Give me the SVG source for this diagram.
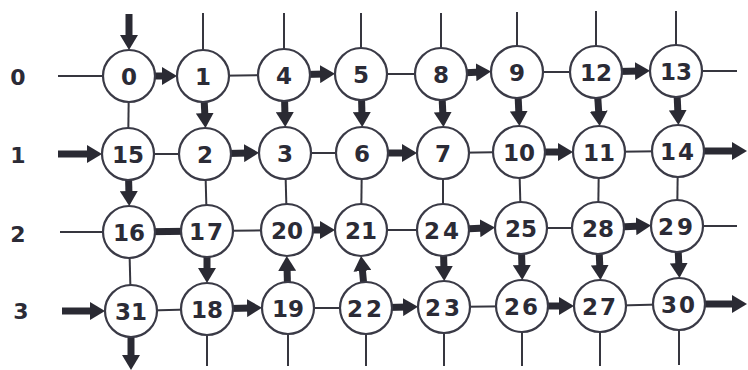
<svg xmlns="http://www.w3.org/2000/svg" width="748" height="370" viewBox="0 0 748 370">
<style>
.bg{fill:#ffffff}
.thin{stroke:#36363f;stroke-width:2;fill:none}
.thick{stroke:#2a2a33;stroke-width:7;fill:none}
.arr{stroke:#2a2a33;stroke-width:7;fill:none;marker-end:url(#head)}
.node circle{fill:#ffffff;stroke:#3a3a46;stroke-width:2.2}
.node text,.lbl{font-family:"DejaVu Sans",sans-serif;font-weight:bold;font-size:23px;fill:#2b2b36;text-anchor:middle;dominant-baseline:central}
.lbl{font-size:22px}
</style>
<defs>
<marker id="head" markerUnits="userSpaceOnUse" viewBox="0 0 15 18" markerWidth="15" markerHeight="18" refX="5" refY="9" orient="auto">
<path d="M0,0 L15,9 L0,18 z" fill="#2a2a33"/>
</marker>
</defs>
<rect class="bg" x="0" y="0" width="748" height="370"/>
<g id="row-labels">
<text class="lbl" x="18" y="77">0</text>
<text class="lbl" x="18" y="155">1</text>
<text class="lbl" x="18" y="234">2</text>
<text class="lbl" x="21" y="311">3</text>
</g>
<g id="connectors">
<line class="thin" x1="58" y1="76" x2="129" y2="76"/>
<line class="arr" x1="129" y1="76" x2="167" y2="76"/>
<line class="thin" x1="203" y1="76" x2="284" y2="75"/>
<line class="arr" x1="284" y1="75" x2="325" y2="74"/>
<line class="thin" x1="361" y1="74" x2="441" y2="74"/>
<line class="arr" x1="441" y1="74" x2="481" y2="72"/>
<line class="thin" x1="517" y1="72" x2="596" y2="72"/>
<line class="arr" x1="596" y1="72" x2="640" y2="71"/>
<line class="thin" x1="676" y1="71" x2="737" y2="71"/>
<line class="arr" x1="129" y1="14" x2="129" y2="40"/>
<line class="thin" x1="203" y1="13" x2="203" y2="76"/>
<line class="thin" x1="284" y1="13" x2="284" y2="75"/>
<line class="thin" x1="361" y1="13" x2="361" y2="74"/>
<line class="thin" x1="441" y1="13" x2="441" y2="74"/>
<line class="thin" x1="517" y1="12" x2="517" y2="72"/>
<line class="thin" x1="596" y1="11" x2="596" y2="72"/>
<line class="thin" x1="676" y1="11" x2="676" y2="71"/>
<line class="thin" x1="129" y1="76" x2="128" y2="154"/>
<line class="arr" x1="203" y1="76" x2="205" y2="118"/>
<line class="arr" x1="284" y1="75" x2="285" y2="117"/>
<line class="arr" x1="361" y1="74" x2="362" y2="117"/>
<line class="arr" x1="441" y1="74" x2="443" y2="117"/>
<line class="arr" x1="517" y1="72" x2="519" y2="116"/>
<line class="arr" x1="596" y1="72" x2="599" y2="116"/>
<line class="arr" x1="676" y1="71" x2="678" y2="115"/>
<line class="arr" x1="58" y1="154" x2="92" y2="154"/>
<line class="thin" x1="128" y1="154" x2="205" y2="154"/>
<line class="arr" x1="205" y1="154" x2="249" y2="153"/>
<line class="thin" x1="285" y1="153" x2="362" y2="153"/>
<line class="arr" x1="362" y1="153" x2="407" y2="153"/>
<line class="thin" x1="443" y1="153" x2="519" y2="152"/>
<line class="arr" x1="519" y1="152" x2="563" y2="152"/>
<line class="thin" x1="599" y1="152" x2="678" y2="151"/>
<line class="arr" x1="678" y1="151" x2="737" y2="151"/>
<line class="arr" x1="128" y1="154" x2="129" y2="196"/>
<line class="thin" x1="205" y1="154" x2="207" y2="231"/>
<line class="thin" x1="285" y1="153" x2="287" y2="230"/>
<line class="thin" x1="362" y1="153" x2="361" y2="230"/>
<line class="thin" x1="443" y1="153" x2="443" y2="230"/>
<line class="thin" x1="519" y1="152" x2="521" y2="228"/>
<line class="thin" x1="599" y1="152" x2="598" y2="228"/>
<line class="thin" x1="678" y1="151" x2="677" y2="226"/>
<line class="thin" x1="60" y1="232" x2="129" y2="232"/>
<line class="thick" x1="129" y1="232" x2="207" y2="231"/>
<line class="thin" x1="207" y1="231" x2="287" y2="230"/>
<line class="arr" x1="287" y1="230" x2="325" y2="230"/>
<line class="thin" x1="361" y1="230" x2="443" y2="230"/>
<line class="arr" x1="443" y1="230" x2="485" y2="228"/>
<line class="thin" x1="521" y1="228" x2="598" y2="228"/>
<line class="arr" x1="598" y1="228" x2="641" y2="226"/>
<line class="thin" x1="677" y1="226" x2="737" y2="226"/>
<line class="thin" x1="129" y1="232" x2="131" y2="311"/>
<line class="arr" x1="207" y1="231" x2="207" y2="273"/>
<line class="arr" x1="288" y1="308" x2="287" y2="266"/>
<line class="arr" x1="366" y1="308" x2="362" y2="266"/>
<line class="arr" x1="443" y1="230" x2="444" y2="271"/>
<line class="arr" x1="521" y1="228" x2="522" y2="270"/>
<line class="arr" x1="598" y1="228" x2="600" y2="270"/>
<line class="arr" x1="677" y1="226" x2="679" y2="268"/>
<line class="arr" x1="62" y1="311" x2="95" y2="311"/>
<line class="thin" x1="131" y1="311" x2="207" y2="309"/>
<line class="arr" x1="207" y1="309" x2="252" y2="308"/>
<line class="thin" x1="288" y1="308" x2="366" y2="308"/>
<line class="arr" x1="366" y1="308" x2="408" y2="307"/>
<line class="thin" x1="444" y1="307" x2="522" y2="306"/>
<line class="arr" x1="522" y1="306" x2="564" y2="306"/>
<line class="thin" x1="600" y1="306" x2="679" y2="304"/>
<line class="arr" x1="679" y1="304" x2="737" y2="304"/>
<line class="arr" x1="131" y1="311" x2="131" y2="360"/>
<line class="thin" x1="207" y1="309" x2="207" y2="366"/>
<line class="thin" x1="288" y1="308" x2="288" y2="366"/>
<line class="thin" x1="366" y1="308" x2="366" y2="366"/>
<line class="thin" x1="444" y1="307" x2="444" y2="366"/>
<line class="thin" x1="522" y1="306" x2="522" y2="366"/>
<line class="thin" x1="600" y1="306" x2="600" y2="366"/>
<line class="thin" x1="679" y1="304" x2="679" y2="365"/>
</g>
<g id="n0" class="node"><circle cx="129" cy="76" r="26"/><text x="129" y="77">0</text></g>
<g id="n1" class="node"><circle cx="203" cy="76" r="26"/><text x="203" y="77">1</text></g>
<g id="n4" class="node"><circle cx="284" cy="75" r="26"/><text x="284" y="76">4</text></g>
<g id="n5" class="node"><circle cx="361" cy="74" r="26"/><text x="361" y="75">5</text></g>
<g id="n8" class="node"><circle cx="441" cy="74" r="26"/><text x="441" y="75">8</text></g>
<g id="n9" class="node"><circle cx="517" cy="72" r="26"/><text x="517" y="73">9</text></g>
<g id="n12" class="node"><circle cx="596" cy="72" r="26"/><text x="596" y="73">12</text></g>
<g id="n13" class="node"><circle cx="676" cy="71" r="26"/><text x="676" y="72">13</text></g>
<g id="n15" class="node"><circle cx="128" cy="154" r="26"/><text x="128" y="155">15</text></g>
<g id="n2" class="node"><circle cx="205" cy="154" r="26"/><text x="205" y="155">2</text></g>
<g id="n3" class="node"><circle cx="285" cy="153" r="26"/><text x="285" y="154">3</text></g>
<g id="n6" class="node"><circle cx="362" cy="153" r="26"/><text x="362" y="154">6</text></g>
<g id="n7" class="node"><circle cx="443" cy="153" r="26"/><text x="443" y="154">7</text></g>
<g id="n10" class="node"><circle cx="519" cy="152" r="26"/><text x="519" y="153">10</text></g>
<g id="n11" class="node"><circle cx="599" cy="152" r="26"/><text x="599" y="153">11</text></g>
<g id="n14" class="node"><circle cx="678" cy="151" r="26"/><text x="678" y="152" letter-spacing="2">14</text></g>
<g id="n16" class="node"><circle cx="129" cy="232" r="26"/><text x="129" y="233">16</text></g>
<g id="n17" class="node"><circle cx="207" cy="231" r="26"/><text x="207" y="232" letter-spacing="2">17</text></g>
<g id="n20" class="node"><circle cx="287" cy="230" r="26"/><text x="287" y="231">20</text></g>
<g id="n21" class="node"><circle cx="361" cy="230" r="26"/><text x="361" y="231">21</text></g>
<g id="n24" class="node"><circle cx="443" cy="230" r="26"/><text x="443" y="231" letter-spacing="3">24</text></g>
<g id="n25" class="node"><circle cx="521" cy="228" r="26"/><text x="521" y="229">25</text></g>
<g id="n28" class="node"><circle cx="598" cy="228" r="26"/><text x="598" y="229">28</text></g>
<g id="n29" class="node"><circle cx="677" cy="226" r="26"/><text x="677" y="227" letter-spacing="3">29</text></g>
<g id="n31" class="node"><circle cx="131" cy="311" r="26"/><text x="131" y="312">31</text></g>
<g id="n18" class="node"><circle cx="207" cy="309" r="26"/><text x="207" y="310">18</text></g>
<g id="n19" class="node"><circle cx="288" cy="308" r="26"/><text x="288" y="309">19</text></g>
<g id="n22" class="node"><circle cx="366" cy="308" r="26"/><text x="366" y="309" letter-spacing="3">22</text></g>
<g id="n23" class="node"><circle cx="444" cy="307" r="26"/><text x="444" y="308" letter-spacing="3">23</text></g>
<g id="n26" class="node"><circle cx="522" cy="306" r="26"/><text x="522" y="307" letter-spacing="2">26</text></g>
<g id="n27" class="node"><circle cx="600" cy="306" r="26"/><text x="600" y="307" letter-spacing="2">27</text></g>
<g id="n30" class="node"><circle cx="679" cy="304" r="26"/><text x="679" y="305" letter-spacing="2">30</text></g>
</svg>
